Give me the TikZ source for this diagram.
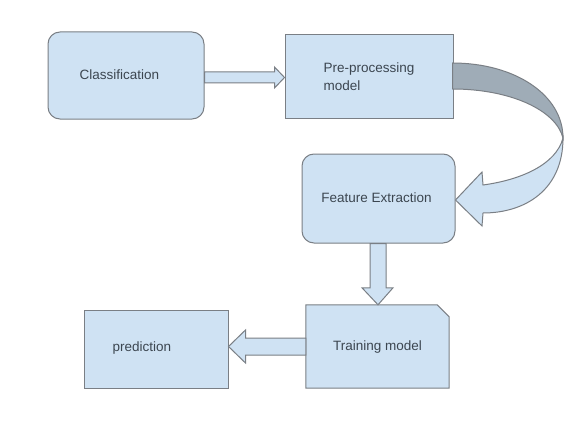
\documentclass[tikz,border=0pt]{standalone}
\usepackage{fontspec}
\setmainfont{Liberation Sans}
\usetikzlibrary{calc}
\definecolor{boxfill}{HTML}{CFE2F3}
\definecolor{boxline}{HTML}{7A7F85}
\definecolor{labeltext}{HTML}{3C4650}
\definecolor{backside}{HTML}{9FACB7}
\begin{document}
\begin{tikzpicture}[x=1pt,y=-1pt,
  box/.style={draw=boxline, fill=boxfill, line width=1pt, inner sep=0pt,
    font=\fontsize{13.5}{18}\selectfont, text=labeltext},
  roundbox/.style={box, rounded corners=12pt},
  plainbox/.style={box},
  label/.style={inner sep=0pt, font=\fontsize{13.5}{18}\selectfont, text=labeltext},
  blockarrow/.style={draw=boxline, fill=boxfill, line width=1pt, line join=miter},
  backarrow/.style={draw=boxline, fill=backside, line width=1pt}]

% page
\fill[white] (0,0) rectangle (576,428);
\useasboundingbox (0,0) rectangle (576,428);

% boxes
\node[roundbox, minimum width=156pt, minimum height=87pt] (cls) at (126,75.5) {};
\node[label] (clstext) at (119.5,75) {Classification};

\node[plainbox, minimum width=168pt, minimum height=83pt, align=left] (pre) at (369,76.5)
  {Pre-processing\\model};

\node[roundbox, minimum width=153pt, minimum height=89pt] (fe) at (378.5,198.5) {};
\node[label] (fetext) at (376.5,198) {Feature Extraction};

% training box with one snipped corner
\node[inner sep=0pt, minimum width=143pt, minimum height=83pt] (tr) at (377.5,346.5) {};
\draw[box] (tr.south west) -- (tr.north west) -- ($(tr.north east)+(-12,0)$)
  -- ($(tr.north east)+(0,12)$) -- (tr.south east) -- cycle;
\node[label] (trtext) at (377.5,347) {Training model};

\node[plainbox, minimum width=144pt, minimum height=78pt] (pred) at (156,349) {};
\node[label, anchor=west] (predtext) at ($(pred.west)+(29,-1)$) {prediction};

% Classification -> Pre-processing
\draw[blockarrow] ($(cls.east)+(0,-3.5)$) -- ($(pre.west)+(-10,-4.5)$)
  -- ($(pre.west)+(-10,-9.5)$) -- ($(pre.west)+(0,1)$)
  -- ($(pre.west)+(-10,11.5)$) -- ($(pre.west)+(-10,6.5)$)
  -- ($(cls.east)+(0,7.5)$) -- cycle;

% Pre-processing -> Feature Extraction (curved, twisted ribbon)
\draw[backarrow] ($(pre.east)+(-1,-13.5)$) .. controls (515,63) and (563,95) .. (563,138)
  .. controls (556,110) and (510,89) .. ($(pre.east)+(-1,12.5)$) -- cycle;
\draw[blockarrow] (563,138) .. controls (563,190) and (525,213) .. (483,213)
  -- (482,226) -- ($(fe.east)+(0,1.5)$) -- (482,172) -- (483,185)
  .. controls (520,180) and (556,165) .. (563,138) -- cycle;

% Feature Extraction -> Training model
\draw[blockarrow] ($(fe.south)+(-8.5,0)$) -- ($(tr.north)+(-7.5,-17)$)
  -- ($(tr.north)+(-15.5,-17)$) -- ($(tr.north)+(0.5,0)$)
  -- ($(tr.north)+(15.5,-17)$) -- ($(tr.north)+(8.5,-17)$)
  -- ($(fe.south)+(7.5,0)$) -- cycle;

% Training model -> prediction
\draw[blockarrow] ($(tr.west)+(0,-8.5)$) -- ($(pred.east)+(17,-11)$)
  -- ($(pred.east)+(17,-19)$) -- ($(pred.east)+(0,-2.5)$)
  -- ($(pred.east)+(17,14)$) -- ($(pred.east)+(17,6)$)
  -- ($(tr.west)+(0,8.5)$) -- cycle;
\end{tikzpicture}
\end{document}
